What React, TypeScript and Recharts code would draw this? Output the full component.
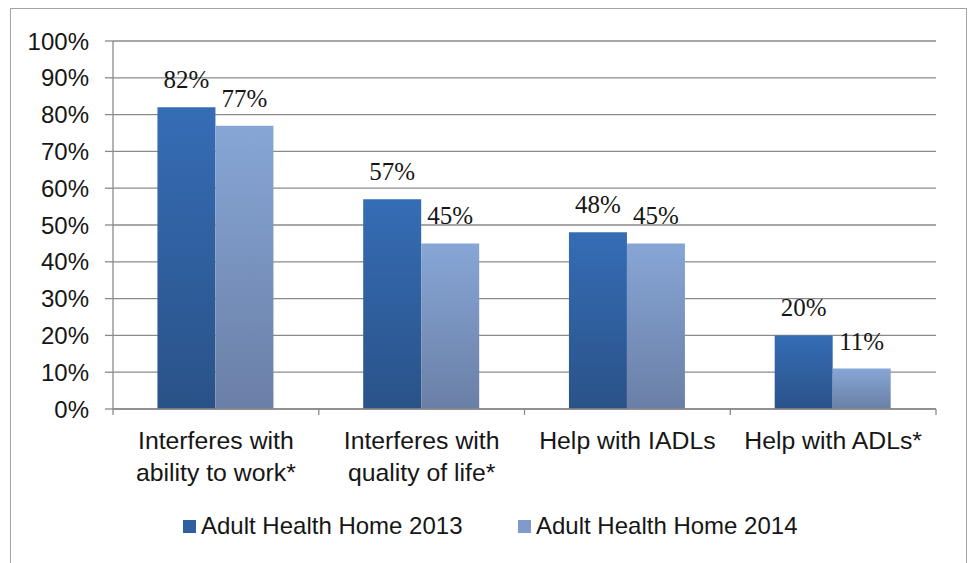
import React from "react"
import { BarChart, Bar, XAxis, YAxis, CartesianGrid, LabelList } from "recharts"

const categories = [
  "Interferes with\nability to work*",
  "Interferes with\nquality of life*",
  "Help with IADLs",
  "Help with ADLs*",
]
const series2013 = [82, 57, 48, 20]
const series2014 = [77, 45, 45, 11]
const yTicks = [0, 10, 20, 30, 40, 50, 60, 70, 80, 90, 100]
const seriesNames = ["Adult Health Home 2013", "Adult Health Home 2014"]

const data = categories.map((name, i) => ({
  name,
  y2013: series2013[i],
  y2014: series2014[i],
}))

const SANS = "'Liberation Sans', Arial, sans-serif"
const SERIF = "'Liberation Serif', 'Times New Roman', serif"
const GRID = "#8a8a8a"
const INK = "#161616"

const CategoryTick = (props: any) => {
  const { x, y, payload, index } = props
  const half = payload?.offset ?? 102.9
  const lines = String(payload.value).split("\n")
  return (
    <g>
      <line x1={x - half} y1={y} x2={x - half} y2={y + 6} stroke={GRID} strokeWidth={1.3} />
      {index === categories.length - 1 && (
        <line x1={x + half} y1={y} x2={x + half} y2={y + 6} stroke={GRID} strokeWidth={1.3} />
      )}
      <text textAnchor="middle" fontFamily={SANS} fontSize={24.8} fill={INK}>
        {lines.map((line, i) => (
          <tspan key={i} x={x} y={y + 40 + i * 32}>
            {line}
          </tspan>
        ))}
      </text>
    </g>
  )
}

const LegendItem = ({ color, label, left }: { color: string; label: string; left: number }) => (
  <div style={{ position: "absolute", left, top: 513, display: "flex", alignItems: "center" }}>
    <div style={{ width: 13, height: 13, background: color, marginRight: 5 }} />
    <span style={{ fontFamily: SANS, fontSize: 24, color: INK, lineHeight: "26px" }}>{label}</span>
  </div>
)

export default function App() {
  return (
    <div style={{ position: "absolute", left: 0, top: 0, width: 970, height: 563, background: "#fff", overflow: "hidden" }}>
      <div
        style={{
          position: "absolute",
          left: 10,
          top: 8,
          width: 957,
          height: 600,
          border: "1.5px solid #a3a3a3",
          boxSizing: "border-box",
        }}
      />
      <div style={{ position: "absolute", left: 0, top: 0 }}>
        <BarChart
          width={970}
          height={563}
          data={data}
          margin={{ top: 41, right: 34, left: 0, bottom: 0 }}
          barCategoryGap="21.6%"
          barGap={0}
        >
          <defs>
            <linearGradient id="g2013" x1="0" y1="0" x2="0" y2="1">
              <stop offset="0%" stopColor="#356db5" />
              <stop offset="100%" stopColor="#2a5288" />
            </linearGradient>
            <linearGradient id="g2014" x1="0" y1="0" x2="0" y2="1">
              <stop offset="0%" stopColor="#87a6d6" />
              <stop offset="100%" stopColor="#6a7fa6" />
            </linearGradient>
          </defs>
          <CartesianGrid vertical={false} stroke={GRID} strokeWidth={1.3} />
          <XAxis
            dataKey="name"
            interval={0}
            height={154}
            tickSize={0}
            tickMargin={0}
            tickLine={false}
            axisLine={{ stroke: GRID, strokeWidth: 1.3 }}
            tick={<CategoryTick />}
          />
          <YAxis
            width={113}
            domain={[0, 100]}
            ticks={yTicks}
            interval={0}
            tickFormatter={(v: number) => `${v}%`}
            tickSize={8}
            tickMargin={16}
            axisLine={{ stroke: GRID, strokeWidth: 1.3 }}
            tickLine={{ stroke: GRID, strokeWidth: 1.3 }}
            tick={{ fontFamily: SANS, fontSize: 24, fill: INK }}
          />
          <Bar dataKey="y2013" name={seriesNames[0]} fill="url(#g2013)" isAnimationActive={false}>
            <LabelList
              dataKey="y2013"
              position="top"
              offset={19}
              formatter={(v: any) => `${v}%`}
              style={{ fontFamily: SERIF, fontSize: 25, fill: INK }}
            />
          </Bar>
          <Bar dataKey="y2014" name={seriesNames[1]} fill="url(#g2014)" isAnimationActive={false}>
            <LabelList
              dataKey="y2014"
              position="top"
              offset={19}
              formatter={(v: any) => `${v}%`}
              style={{ fontFamily: SERIF, fontSize: 25, fill: INK }}
            />
          </Bar>
        </BarChart>
      </div>
      <LegendItem color="#2f5fa3" label={seriesNames[0]} left={183} />
      <LegendItem color="#7f9acb" label={seriesNames[1]} left={518} />
    </div>
  )
}
